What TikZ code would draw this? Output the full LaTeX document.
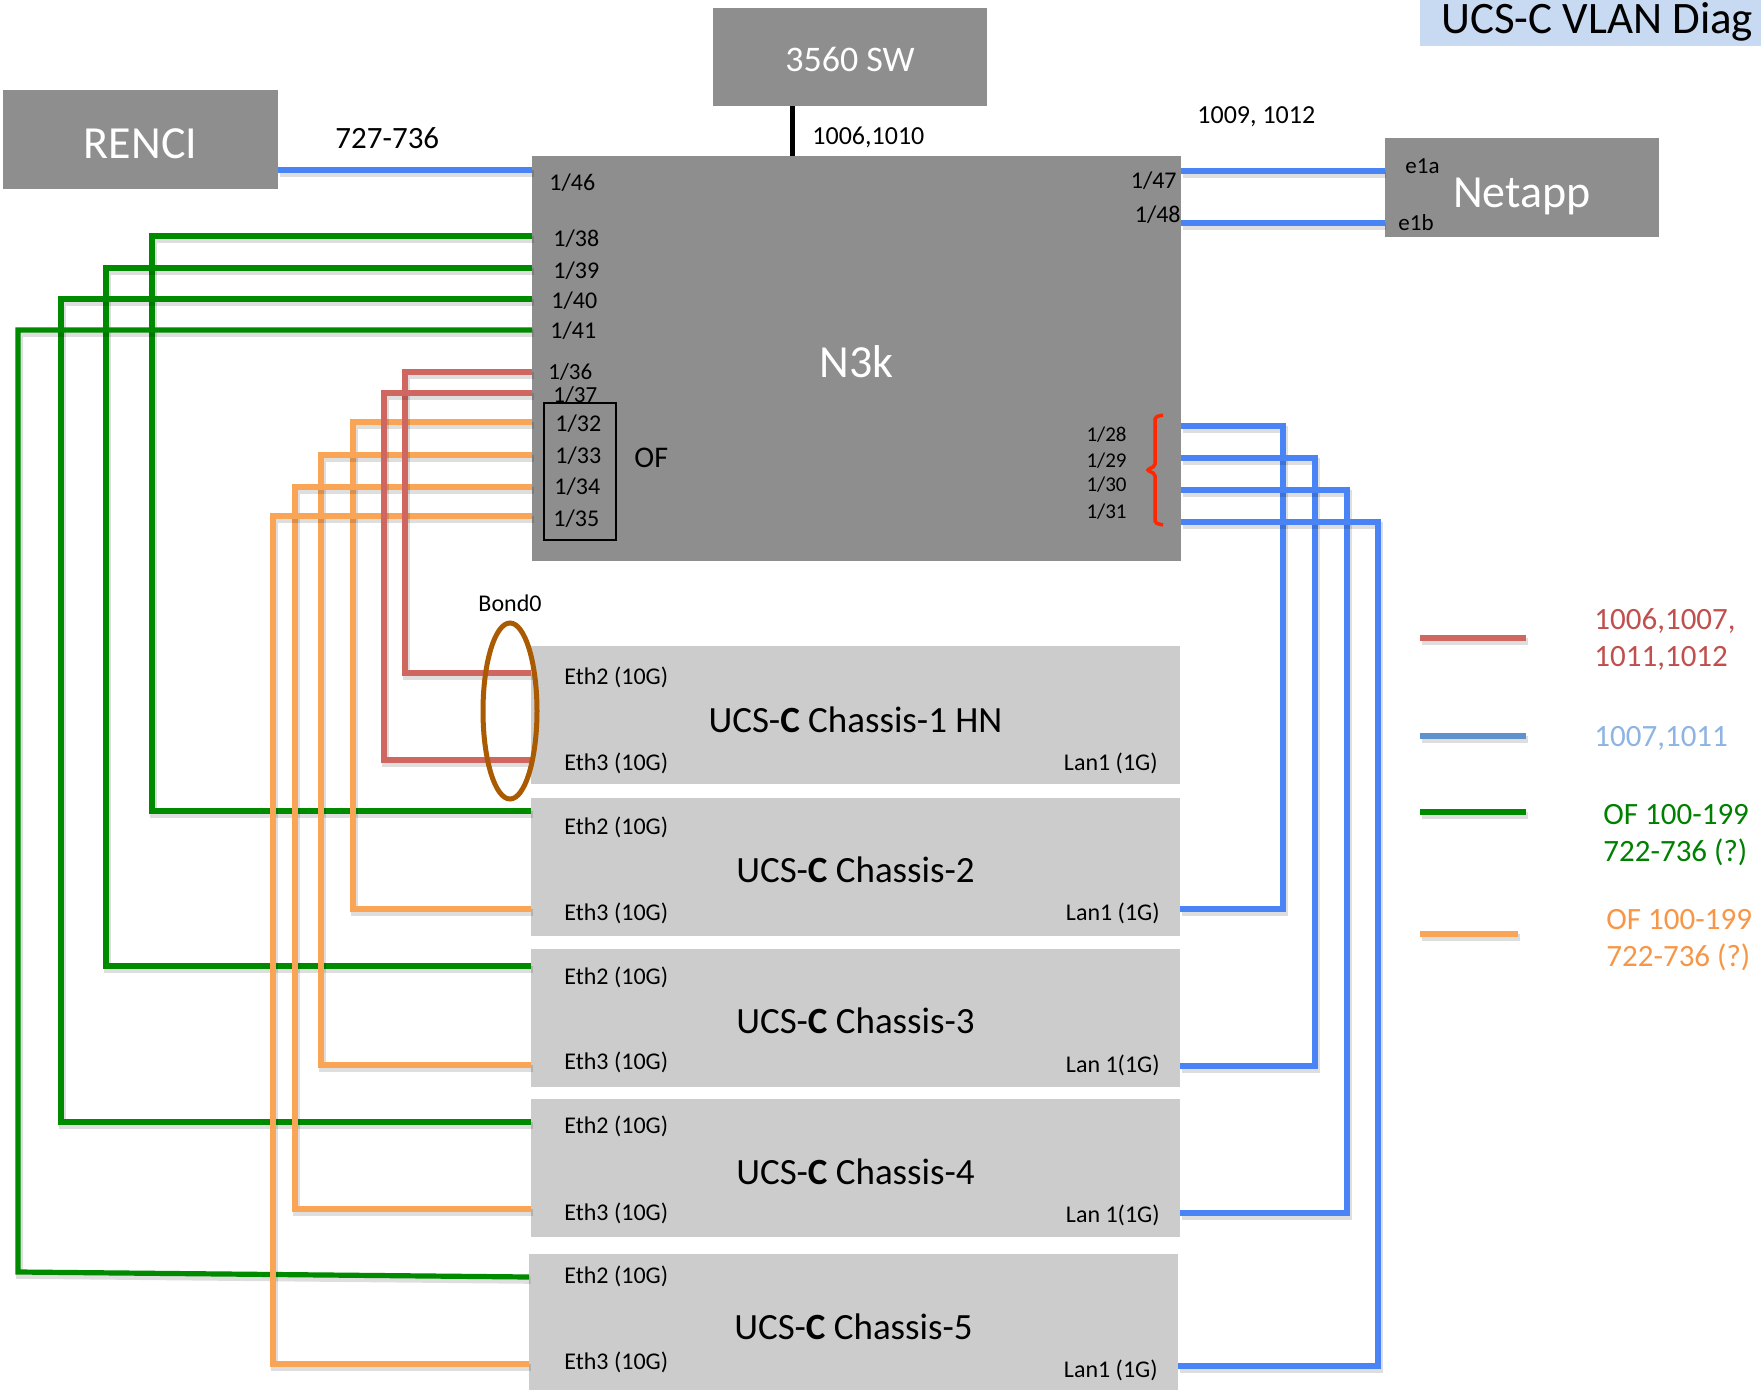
\documentclass[tikz,border=0pt]{standalone}
\usepackage{fontspec}
\setmainfont{Carlito}
\usepackage{tikz}
\usetikzlibrary{positioning,shapes.geometric}

\definecolor{devgray}{RGB}{142,142,142}
\definecolor{chgray}{RGB}{204,204,204}
\definecolor{titleblue}{RGB}{200,218,241}
\definecolor{linkblue}{RGB}{72,132,245}
\definecolor{ofgreen}{RGB}{0,138,0}
\definecolor{linkred}{RGB}{208,102,96}
\definecolor{oforange}{RGB}{250,165,85}
\definecolor{bondbrown}{RGB}{170,90,0}
\definecolor{bracered}{RGB}{255,38,0}
\definecolor{legred}{RGB}{192,80,77}
\definecolor{legblueline}{RGB}{95,145,205}
\definecolor{legbluetxt}{RGB}{141,180,226}
\definecolor{leggreen}{RGB}{0,128,0}
\definecolor{legorange}{RGB}{247,150,70}

\newcommand{\lowered}[2]{\raisebox{-#1}[\height][\depth]{#2}}

\begin{document}
\begin{tikzpicture}[x=0.5pt, y=-0.5pt,
  dev/.style={fill=devgray, text=white, inner sep=0pt, font=\fontsize{23}{26}\selectfont},
  chassis/.style={fill=chgray, inner sep=0pt, minimum width=324.5pt, minimum height=69pt, font=\fontsize{18.5}{21}\selectfont},
  titlebox/.style={fill=titleblue, inner xsep=10.5pt, inner ysep=0pt, text depth=6pt, text height=26pt, font=\fontsize{22.5}{26}\selectfont},
  port/.style={inner sep=0pt, font=\fontsize{12}{14}\selectfont},
  sport/.style={inner sep=0pt, font=\fontsize{10.5}{12}\selectfont},
  vlan/.style={inner sep=0pt, anchor=west, font=\fontsize{13}{15}\selectfont},
  legtext/.style={inner sep=0pt, align=left, anchor=west, font=\fontsize{15.5}{18.5}\selectfont},
  shade/.style={preaction={draw=black, draw opacity=0.13, line width=3.6pt, transform canvas={shift={(0.8pt,-1.6pt)}}}},
  bluewire/.style={shade, draw=linkblue, line width=2.6pt},
  greenwire/.style={shade, draw=ofgreen, line width=2.6pt},
  redwire/.style={shade, draw=linkred, line width=2.6pt},
  orangewire/.style={shade, draw=oforange, line width=2.6pt},
  swlink/.style={draw=black, line width=2.5pt},
  ofgroup/.style={draw=black, line width=0.8pt, inner sep=0pt, minimum width=36pt, minimum height=68.5pt},
  brace/.style={draw=bracered, line width=1.75pt, rounded corners=1pt},
  bondring/.style={draw=bondbrown, line width=2.5pt, ellipse, inner sep=0pt, minimum width=27pt, minimum height=88pt},
]
  \useasboundingbox (0,0) rectangle (1761,1390);
  \fill[white] (0,0) rectangle (1761,1390);
  \clip (0,0) rectangle (1761,1390);

  \node[titlebox, anchor=base west] (title) at (1420,34) {UCS-C VLAN Diag};

  \node[dev, minimum width=137.5pt, minimum height=49.5pt] (renci) at (140.5,139.5) {\lowered{2.25pt}{RENCI}};
  \node[dev, font=\fontsize{18}{20}\selectfont, minimum width=137pt, minimum height=49pt] (sw) at (850,57) {\lowered{1pt}{3560 SW}};
  \node[dev, minimum width=324.5pt, minimum height=202.5pt] (n3k) at (856.5,358.5) {\lowered{1.7pt}{N3k}};
  \node[dev, minimum width=137pt, minimum height=49.5pt] (netapp) at (1522,187.5) {\lowered{4.5pt}{Netapp}};

  \node[vlan, font=\fontsize{15.5}{18}\selectfont] (renciv) at (335,138) {727-736};
  \node[vlan] (swv) at (812,137) {1006,1010};
  \node[vlan] (netv) at (1197,117) {1009, 1012};

  \node[port, anchor=west, font=\fontsize{11.5}{13}\selectfont] (e1a) at (1405,166) {e1a};
  \node[port, anchor=west, font=\fontsize{11.5}{13}\selectfont] (e1b) at (1398,223) {e1b};

  \node[port, anchor=west] (l46) at (549,183) {1/46};
  \node[port, anchor=west] (l38) at (553,239) {1/38};
  \node[port, anchor=west] (l39) at (553,271) {1/39};
  \node[port, anchor=west] (l40) at (551,301) {1/40};
  \node[port, anchor=west] (l41) at (550,331) {1/41};
  \node[port, anchor=west, font=\fontsize{11.5}{13}\selectfont] (l36) at (548,372) {1/36};
  \node[port, anchor=west, font=\fontsize{11.5}{13}\selectfont] (l37) at (553,395) {1/37};
  \node[port, anchor=west] (l32) at (555,424) {1/32};
  \node[port, anchor=west] (l33) at (555,456) {1/33};
  \node[port, anchor=west] (l34) at (554,487) {1/34};
  \node[port, anchor=west] (l35) at (553,519) {1/35};
  \node[ofgroup] (ofgrp) at (580,471.5) {};
  \node[inner sep=0pt, anchor=west, font=\fontsize{15}{17}\selectfont] (oflbl) at (634,458) {OF};

  \node[port, anchor=east] (r47) at (1177,181) {1/47};
  \node[port, anchor=east] (r48) at (1181,215) {1/48};
  \node[sport, anchor=east] (r28) at (1127,435) {1/28};
  \node[sport, anchor=east] (r29) at (1127,461) {1/29};
  \node[sport, anchor=east] (r30) at (1127,485) {1/30};
  \node[sport, anchor=east] (r31) at (1127,512) {1/31};
  \draw[brace] (1163,415) -- (1155,417) -- (1155,466) -- (1147,470) -- (1155,474) -- (1155,523) -- (1163,525);

  \node[chassis] (c1) at (855.5,715) {\lowered{2.5pt}{UCS-\textbf{C} Chassis-1 HN}};
  \node[chassis] (c2) at (855.5,866.5) {\lowered{1.8pt}{UCS-\textbf{C} Chassis-2}};
  \node[chassis] (c3) at (855.5,1017.5) {\lowered{1.8pt}{UCS-\textbf{C} Chassis-3}};
  \node[chassis] (c4) at (855.5,1168) {\lowered{1.8pt}{UCS-\textbf{C} Chassis-4}};
  \node[chassis] (c5) at (853.5,1323) {\lowered{2pt}{UCS-\textbf{C} Chassis-5}};

  \node[port, anchor=west] (c1eth2) at (564,677) {Eth2 (10G)};
  \node[port, anchor=west] (c1eth3) at (564,763) {Eth3 (10G)};
  \node[port, anchor=east] (c1lan) at (1158,763) {Lan1 (1G)};
  \node[port, anchor=west] (c2eth2) at (564,827) {Eth2 (10G)};
  \node[port, anchor=west] (c2eth3) at (564,913) {Eth3 (10G)};
  \node[port, anchor=east] (c2lan) at (1160,913) {Lan1 (1G)};
  \node[port, anchor=west] (c3eth2) at (564,977) {Eth2 (10G)};
  \node[port, anchor=west] (c3eth3) at (564,1062) {Eth3 (10G)};
  \node[port, anchor=east] (c3lan) at (1160,1065) {Lan 1(1G)};
  \node[port, anchor=west] (c4eth2) at (564,1126) {Eth2 (10G)};
  \node[port, anchor=west] (c4eth3) at (564,1213) {Eth3 (10G)};
  \node[port, anchor=east] (c4lan) at (1160,1215) {Lan 1(1G)};
  \node[port, anchor=west] (c5eth2) at (564,1276) {Eth2 (10G)};
  \node[port, anchor=west] (c5eth3) at (564,1362) {Eth3 (10G)};
  \node[port, anchor=east] (c5lan) at (1158,1370) {Lan1 (1G)};

  \coordinate (p46) at (532,170);
  \coordinate (p38) at (532,236);
  \coordinate (p39) at (532,268);
  \coordinate (p40) at (532,299);
  \coordinate (p41) at (532,330);
  \coordinate (p36) at (532,372);
  \coordinate (p37) at (532,393);
  \coordinate (p32) at (532,422);
  \coordinate (p33) at (532,455);
  \coordinate (p34) at (532,487);
  \coordinate (p35) at (532,516);
  \coordinate (p47) at (1181,171);
  \coordinate (p48) at (1181,223);
  \coordinate (p28) at (1181,426);
  \coordinate (p29) at (1181,458);
  \coordinate (p30) at (1181,490);
  \coordinate (p31) at (1181,522);

  \coordinate (c1e2) at (531,673);
  \coordinate (c1e3) at (531,760);
  \coordinate (c2e2) at (531,811);
  \coordinate (c2e3) at (531,909);
  \coordinate (c2l) at (1180,909);
  \coordinate (c3e2) at (531,966);
  \coordinate (c3e3) at (531,1065);
  \coordinate (c3l) at (1180,1066);
  \coordinate (c4e2) at (531,1122);
  \coordinate (c4e3) at (531,1209);
  \coordinate (c4l) at (1180,1213);
  \coordinate (c5e2) at (529,1277);
  \coordinate (c5e3) at (529,1364);
  \coordinate (c5l) at (1178,1366);

  \draw[swlink] ([xshift=-29pt]sw.south) -- ([xshift=-29pt]sw.south |- n3k.north);
  \draw[bluewire] (renci.east |- p46) -- (p46);
  \draw[bluewire] (p47) -- (netapp.west |- p47);
  \draw[bluewire] (p48) -- (netapp.west |- p48);

  \draw[greenwire] (p38) -- ++(-380,0) |- (c2e2);
  \draw[greenwire] (p39) -- ++(-426,0) |- (c3e2);
  \draw[greenwire] (p40) -- ++(-471,0) |- (c4e2);
  \draw[greenwire] (p41) -- ++(-514,0) -- ++(0,942) -- (c5e2);
  \draw[orangewire] (p32) -- ++(-179,0) |- (c2e3);
  \draw[orangewire] (p33) -- ++(-211,0) |- (c3e3);
  \draw[orangewire] (p34) -- ++(-237,0) |- (c4e3);
  \draw[orangewire] (p35) -- ++(-259,0) |- (c5e3);
  \draw[redwire] (p36) -- ++(-127,0) |- (c1e2);
  \draw[redwire] (p37) -- ++(-148,0) |- (c1e3);

  \draw[bluewire] (p28) -- ++(102,0) |- (c2l);
  \draw[bluewire] (p29) -- ++(134,0) |- (c3l);
  \draw[bluewire] (p30) -- ++(166,0) |- (c4l);
  \draw[bluewire] (p31) -- ++(197,0) |- (c5l);

  \node[bondring] (bond) at (510,711) {};
  \node[port, above=4pt of bond] (bondlbl) {Bond0};

  \node[legtext, text=legred] (lgred) at (1594,640) {1006,1007,\\1011,1012};
  \node[legtext, text=legbluetxt] (lgblue) at (1594,738) {1007,1011};
  \node[legtext, text=leggreen] (lggreen) at (1603,835) {OF 100-199\\722-736 (?)};
  \node[legtext, text=legorange] (lgorange) at (1606,940) {OF 100-199\\722-736 (?)};
  \draw[redwire] (lgred.west) ++(-174,-2) -- ++(106,0);
  \draw[shade, draw=legblueline, line width=2.6pt] (lgblue.west) ++(-174,-2) -- ++(106,0);
  \draw[greenwire] (lggreen.west) ++(-183,-23) -- ++(106,0);
  \draw[orangewire] (lgorange.west) ++(-186,-6) -- ++(98,0);
\end{tikzpicture}
\end{document}
